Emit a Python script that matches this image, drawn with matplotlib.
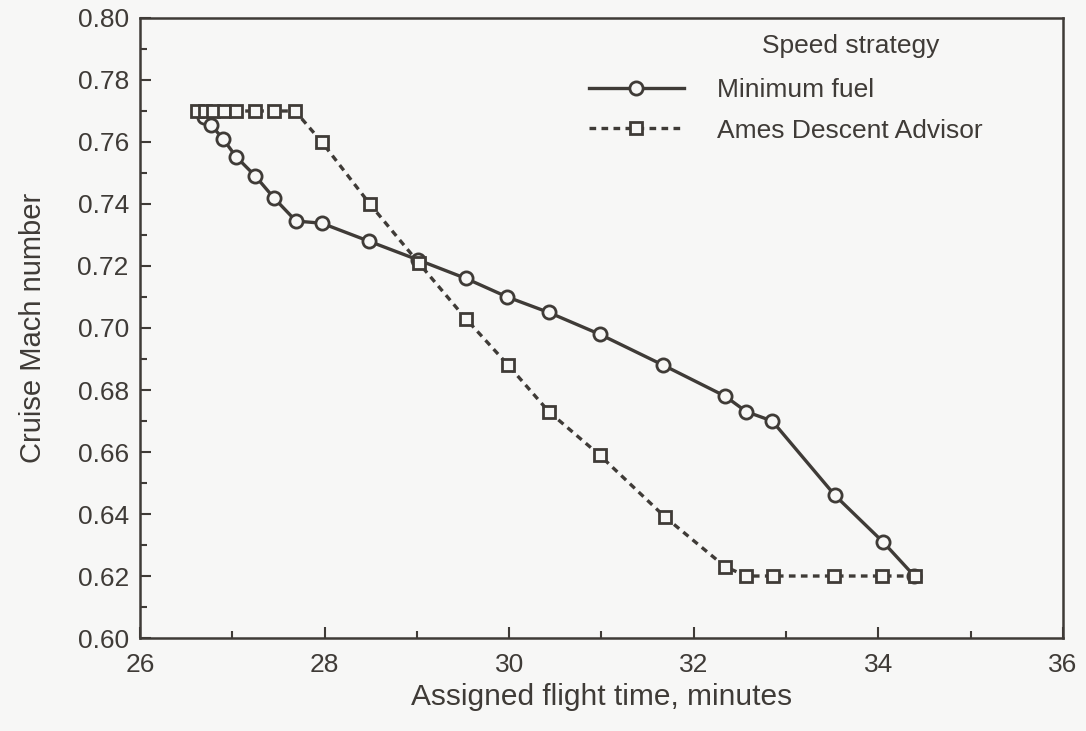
import numpy as np
import matplotlib.pyplot as plt
from matplotlib.ticker import MultipleLocator, FormatStrFormatter

# DATA
fuel_time = [26.69, 26.77, 26.90, 27.04, 27.25, 27.45, 27.69, 27.97, 28.48, 29.01,
             29.53, 29.98, 30.43, 30.98, 31.67, 32.34, 32.57, 32.85, 33.53, 34.05, 34.39]
fuel_mach = [0.768, 0.7655, 0.761, 0.7553, 0.749, 0.742, 0.7345, 0.7338, 0.728, 0.722,
             0.716, 0.710, 0.705, 0.698, 0.688, 0.678, 0.673, 0.670, 0.646, 0.631, 0.620]

ames_time = [26.62, 26.70, 26.79, 26.91, 27.04, 27.25, 27.45, 27.68, 27.97, 28.49, 29.02,
             29.53, 29.99, 30.43, 30.98, 31.69, 32.34, 32.57, 32.86, 33.52, 34.04, 34.40]
ames_mach = [0.770, 0.770, 0.770, 0.770, 0.770, 0.770, 0.770, 0.770, 0.760, 0.740, 0.721,
             0.703, 0.688, 0.673, 0.659, 0.639, 0.623, 0.620, 0.620, 0.620, 0.620, 0.620]

series_names = ['Minimum fuel', 'Ames Descent Advisor']
legend_title = 'Speed strategy'

ink = '#3f3b37'
bg = '#f7f7f6'

plt.rcParams['font.family'] = ['Liberation Sans', 'DejaVu Sans']

fig = plt.figure(figsize=(10.86, 7.31), dpi=100, facecolor=bg)
ax = fig.add_axes([0.1289, 0.1272, 0.8499, 0.8482])
ax.set_facecolor(bg)

ax.plot(fuel_time, fuel_mach, color=ink, lw=2.4, marker='o', ms=9.5,
        mfc=bg, mec=ink, mew=2.0, label=series_names[0], zorder=3)
ax.plot(ames_time, ames_mach, color=ink, lw=2.4, ls=(0, (2, 1.6)), marker='s', ms=8.5,
        mfc=bg, mec=ink, mew=2.0, label=series_names[1], zorder=3)

ax.set_xlim(26, 36)
ax.set_ylim(0.60, 0.80)
ax.xaxis.set_major_locator(MultipleLocator(2))
ax.xaxis.set_minor_locator(MultipleLocator(1))
ax.yaxis.set_major_locator(MultipleLocator(0.02))
ax.yaxis.set_minor_locator(MultipleLocator(0.01))
ax.yaxis.set_major_formatter(FormatStrFormatter('%.2f'))

ax.tick_params(which='both', direction='in', color=ink, labelcolor=ink, width=1.5)
ax.tick_params(which='major', length=8, labelsize=19)
ax.tick_params(axis='x', which='major', pad=11)
ax.tick_params(axis='y', which='major', pad=8)
ax.tick_params(which='minor', length=5)
for s in ax.spines.values():
    s.set_color(ink)
    s.set_linewidth(1.8)

ax.set_xlabel('Assigned flight time, minutes', fontsize=21.5, color=ink, labelpad=4)
ax.set_ylabel('Cruise Mach number', fontsize=21, color=ink, labelpad=22)

# Legend (title drawn separately so it sits over the label column)
leg = ax.legend(loc='upper left', bbox_to_anchor=(0.475, 0.92), frameon=False,
                fontsize=19, handlelength=3.6, handletextpad=1.25, labelspacing=0.62,
                borderaxespad=0, labelcolor=ink)
ax.text(0.77, 0.955, legend_title, transform=ax.transAxes, ha='center', va='center',
        fontsize=19, color=ink)

plt.savefig('out.png', dpi=100, facecolor=bg)
